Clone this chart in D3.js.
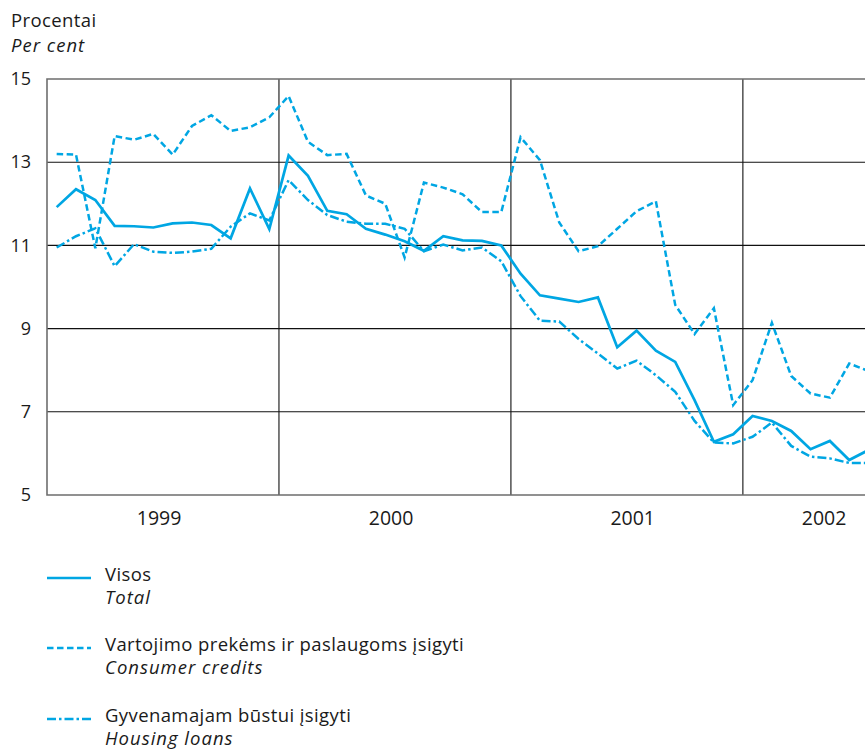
<!DOCTYPE html>
<html>
<head>
<meta charset="utf-8">
<script src="https://cdn.jsdelivr.net/npm/d3@7"></script>
<style>
  html, body { margin: 0; padding: 0; background: #fff; }
  svg { display: block; }
  text { font-family: "Open Sans", sans-serif; fill: #1a1a1a; }
</style>
</head>
<body>
<svg id="chart" width="865" height="749"></svg>
<script>
// ---- data (monthly, Jan 1999 – Jul 2002) ----
const years = ["1999", "2000", "2001", "2002"];
const yearLabelMonth = [5.8, 17.8, 30.3, 40.2];   // month index where each year label is centred
const yTicks = [5, 7, 9, 11, 13, 15];

const total = [
  11.92, 12.35, 12.09, 11.47, 11.46, 11.43, 11.53, 11.55, 11.49, 11.17, 12.37, 11.39,
  13.16, 12.67, 11.83, 11.75, 11.40, 11.26, 11.10, 10.87, 11.22, 11.12, 11.11, 11.00,
  10.32, 9.80, 9.72, 9.64, 9.75, 8.55, 8.95, 8.47, 8.20, 7.28, 6.28, 6.46,
  6.90, 6.78, 6.54, 6.10, 6.30, 5.84, 6.08
];
const consumer = [
  13.20, 13.18, 10.93, 13.63, 13.54, 13.68, 13.18, 13.87, 14.13, 13.75, 13.84, 14.08,
  14.59, 13.49, 13.17, 13.20, 12.20, 12.00, 10.71, 12.51, 12.39, 12.23, 11.80, 11.80,
  13.60, 13.05, 11.55, 10.86, 10.98, 11.40, 11.82, 12.06, 9.57, 8.87, 9.49, 7.16,
  7.76, 9.14, 7.86, 7.44, 7.34, 8.16, 7.98
];
const housing = [
  10.95, 11.22, 11.41, 10.50, 11.03, 10.85, 10.82, 10.85, 10.92, 11.45, 11.77, 11.60,
  12.57, 12.09, 11.73, 11.57, 11.52, 11.52, 11.40, 10.86, 11.02, 10.88, 10.95, 10.62,
  9.78, 9.19, 9.17, 8.75, 8.40, 8.04, 8.23, 7.88, 7.48, 6.78, 6.26, 6.24,
  6.40, 6.74, 6.18, 5.92, 5.88, 5.77, 5.77
];

const seriesNames = [
  ["Visos", "Total"],
  ["Vartojimo prekėms ir paslaugoms įsigyti", "Consumer credits"],
  ["Gyvenamajam būstui įsigyti", "Housing loans"]
];

// ---- layout ----
const svg = d3.select("#chart");
const color = "#00a6e3";
const mLeft = 47, mTop = 79, mBottom = 495, mRight = 865;
const monthW = 19.33;

const x = d3.scaleLinear().domain([0, 48]).range([mLeft, mLeft + 48 * monthW]);
const y = d3.scaleLinear().domain([5, 15]).range([mBottom, mTop]);

// title
svg.append("text").attr("x", 11).attr("y", 27).attr("font-size", 18.5)
  .attr("letter-spacing", 0.4).text("Procentai");
svg.append("text").attr("x", 11).attr("y", 52).attr("font-size", 18.5)
  .attr("letter-spacing", 1.0).attr("font-style", "italic").text("Per cent");

// horizontal grid lines
svg.append("g").selectAll("line").data(yTicks.filter(v => v > 5 && v < 15)).join("line")
  .attr("x1", mLeft).attr("x2", mRight)
  .attr("y1", d => y(d)).attr("y2", d => y(d))
  .attr("stroke", "#111").attr("stroke-width", 1.1);

// vertical year boundaries
svg.append("g").selectAll("line").data([12, 24, 36]).join("line")
  .attr("x1", d => x(d)).attr("x2", d => x(d))
  .attr("y1", mTop).attr("y2", mBottom)
  .attr("stroke", "#111").attr("stroke-width", 1.1);

// frame (top, left, bottom)
svg.append("path")
  .attr("d", `M${mRight},${y(15)}H${mLeft}V${y(5)}H${mRight}`)
  .attr("fill", "none").attr("stroke", "#6e6e6e").attr("stroke-width", 1.6);

// y axis labels
const yAxis = d3.axisLeft(y).tickValues(yTicks).tickSize(0).tickPadding(16).tickFormat(d3.format("d"));
const gy = svg.append("g").attr("transform", `translate(${mLeft},0)`).call(yAxis);
gy.select(".domain").remove();
gy.selectAll("text").attr("font-size", 18).attr("font-family", "Open Sans, sans-serif").attr("fill", "#1a1a1a");

// year labels
svg.append("g").selectAll("text").data(years).join("text")
  .attr("x", (d, i) => x(yearLabelMonth[i])).attr("y", 525)
  .attr("text-anchor", "middle").attr("font-size", 19.5).text(d => d);

// lines
svg.append("clipPath").attr("id", "clip").append("rect")
  .attr("x", mLeft).attr("y", 0).attr("width", mRight - mLeft).attr("height", 749);

const line = d3.line().x((d, i) => x(i + 0.5)).y(d => y(d));
const styles = [
  { data: total, dash: null, w: 2.7 },
  { data: consumer, dash: "6.5,3.5", w: 2.5 },
  { data: housing, dash: "9,3,2.5,3", w: 2.5 }
];
const gl = svg.append("g").attr("clip-path", "url(#clip)");
styles.forEach(s => {
  gl.append("path").datum(s.data)
    .attr("d", line)
    .attr("fill", "none").attr("stroke", color)
    .attr("stroke-width", s.w)
    .attr("stroke-linejoin", "miter")
    .attr("stroke-dasharray", s.dash);
});

// legend
const legendY = [578, 648, 719];
const lg = svg.append("g");
styles.forEach((s, i) => {
  lg.append("line").attr("x1", 47).attr("x2", 91)
    .attr("y1", legendY[i]).attr("y2", legendY[i])
    .attr("stroke", color).attr("stroke-width", s.w)
    .attr("stroke-dasharray", s.dash);
  lg.append("text").attr("x", 105).attr("y", legendY[i] + 3).attr("font-size", 18.5)
    .attr("letter-spacing", 0.4).text(seriesNames[i][0]);
  lg.append("text").attr("x", 105).attr("y", legendY[i] + 26).attr("font-size", 18.5)
    .attr("letter-spacing", 1.0).attr("font-style", "italic").text(seriesNames[i][1]);
});
</script>
</body>
</html>
